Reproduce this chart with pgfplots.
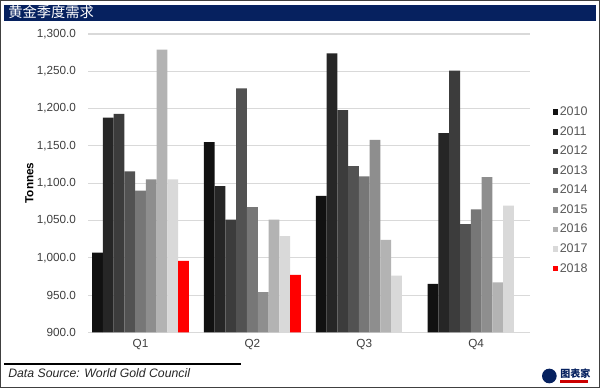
\documentclass[border=0pt]{standalone}
\usepackage{fontspec}
\setmainfont{Liberation Sans}
\newfontfamily\cjk{Noto Sans CJK SC}
\usepackage{pgfplots}
\pgfplotsset{compat=1.18}
\definecolor{navy}{HTML}{06215F}
\definecolor{c10}{HTML}{111111}
\definecolor{c11}{HTML}{262626}
\definecolor{c12}{HTML}{3C3C3C}
\definecolor{c13}{HTML}{525252}
\definecolor{c14}{HTML}{777777}
\definecolor{c15}{HTML}{8E8E8E}
\definecolor{c16}{HTML}{B3B3B3}
\definecolor{c17}{HTML}{D9D9D9}
\definecolor{c18}{HTML}{FF0000}
\definecolor{txt}{HTML}{404040}
\definecolor{leg}{HTML}{595959}
\begin{document}
\begin{tikzpicture}
\path[use as bounding box] (0,0) rectangle (450pt,291pt);
\fill[white] (0,0) rectangle (450pt,291pt);
\draw[line width=1pt,color=black!75] (0.5pt,0.5pt) rectangle (449.5pt,290.5pt);
\fill[navy] (3pt,275.5pt) rectangle (447pt,287.5pt);
\node[anchor=west,inner sep=0pt,text=white,font=\cjk\fontsize{10.7}{12}\selectfont] at (6pt,281.6pt) {黄金季度需求};
\begin{axis}[
  at={(66pt,41.7pt)}, anchor=south west, scale only axis,
  width=331.5pt, height=223.8pt,
  ybar=0pt, bar width=8.08pt,
  xmin=-0.469, xmax=3.481, ymin=900, ymax=1300,
  xtick={0,1,2,3}, xticklabels={Q1,Q2,Q3,Q4},
  ytick={900,950,1000,1050,1100,1150,1200,1250,1300},
  major tick length=0pt,
  axis line style={draw=none},
  axis x line*=bottom, axis y line*=left,
  ymajorgrids, grid style={color=black!15,line width=0.8pt},
  yticklabel style={font=\fontsize{8.8}{10}\selectfont, text=txt, xshift=-5.5pt},
  xticklabel style={font=\fontsize{8.8}{10}\selectfont, text=txt, yshift=-1.5pt},
  /pgf/number format/.cd, fixed, fixed zerofill, precision=1, 1000 sep={,}, assume math mode=true,
  /pgfplots/.cd,
  legend style={at={(axis description cs:1.042,0.77)}, anchor=north west, draw=none, fill=none,
     font=\fontsize{9.4}{10}\selectfont, text=leg, row sep=4.6pt, column sep=0pt,
     nodes={inner sep=1pt}},
  legend cell align=left,
  legend image code/.code={\fill[#1,draw=none] (0pt,-2.1pt) rectangle (4.2pt,2.1pt);},
  every axis plot/.append style={draw=none},
]
\addplot[fill=c10] coordinates {(0,1007)(1,1155)(2,1083)(3,965)};
\addplot[fill=c11] coordinates {(0,1188)(1,1096)(2,1274)(3,1167)};
\addplot[fill=c12] coordinates {(0,1193)(1,1051)(2,1198)(3,1251)};
\addplot[fill=c13] coordinates {(0,1116)(1,1227)(2,1123)(3,1045)};
\addplot[fill=c14] coordinates {(0,1090)(1,1068)(2,1109)(3,1065)};
\addplot[fill=c15] coordinates {(0,1105)(1,954)(2,1158)(3,1108)};
\addplot[fill=c16] coordinates {(0,1279)(1,1051)(2,1024)(3,967)};
\addplot[fill=c17] coordinates {(0,1105)(1,1029)(2,976)(3,1070)};
\addplot[fill=c18] coordinates {(0,996)(1,977)};
\legend{2010,2011,2012,2013,2014,2015,2016,2017,2018}
\end{axis}
\node[rotate=90,font=\bfseries\fontsize{8.8}{10}\selectfont,text=black] at (22pt,153.75pt) {Tonnes};
\draw[line width=0.8pt,black] (3pt,18pt) -- (180.75pt,18pt);
\node[anchor=west,inner sep=0pt,font=\itshape\fontsize{9.2}{10}\selectfont,text=black!85] at (6pt,11.25pt) {Data Source: World Gold Council};
\fill[navy] (412pt,9pt) circle (5.5pt);
\node[anchor=west,inner sep=0pt,font=\cjk\bfseries\fontsize{7.5}{8}\selectfont,text=navy] at (420pt,10.5pt) {图表家};
\fill[red!80!black] (420pt,4pt) rectangle (441pt,6pt);
\end{tikzpicture}
\end{document}
